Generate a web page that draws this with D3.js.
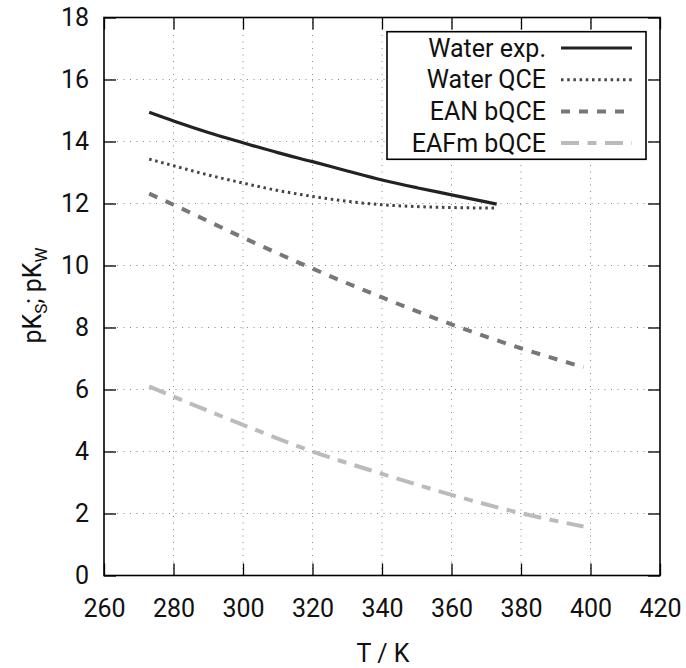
<!DOCTYPE html>
<html>
<head>
<meta charset="utf-8">
<script src="https://cdn.jsdelivr.net/npm/d3@7"></script>
<style>
  html, body { margin: 0; padding: 0; background: #fff; }
  svg { display: block; font-family: Roboto, "Noto Sans", sans-serif; }
</style>
</head>
<body>
<svg id="chart" width="686" height="668"></svg>
<script>
// Temperatures (K) and pK values for each series
const waterExpT   = [273, 280, 290, 300, 310, 320, 330, 340, 350, 360, 373];
const waterExpPK  = [14.94, 14.66, 14.29, 13.96, 13.64, 13.35, 13.05, 12.76, 12.51, 12.28, 11.98];

const waterQceT   = [273, 280, 290, 300, 310, 320, 330, 340, 350, 360, 373];
const waterQcePK  = [13.43, 13.22, 12.92, 12.66, 12.42, 12.23, 12.07, 11.96, 11.90, 11.87, 11.85];

const eanT        = [273, 280, 300, 320, 340, 360, 380, 398];
const eanPK       = [12.32, 11.96, 10.90, 9.90, 8.97, 8.10, 7.33, 6.72];

const eafmT       = [273, 280, 300, 320, 340, 360, 380, 398];
const eafmPK      = [6.10, 5.77, 4.86, 4.00, 3.28, 2.60, 2.01, 1.58];

const seriesNames = ["Water exp.", "Water QCE", "EAN bQCE", "EAFm bQCE"];
const xTicks = [260, 280, 300, 320, 340, 360, 380, 400, 420];
const yTicks = [0, 2, 4, 6, 8, 10, 12, 14, 16, 18];

const series = [
  { name: seriesNames[0], t: waterExpT, v: waterExpPK, color: "#222222", width: 3.2, dash: null },
  { name: seriesNames[1], t: waterQceT, v: waterQcePK, color: "#444444", width: 3, dash: "2.5,3.7" },
  { name: seriesNames[2], t: eanT,      v: eanPK,      color: "#777777", width: 4, dash: "9,9" },
  { name: seriesNames[3], t: eafmT,     v: eafmPK,     color: "#bbbbbb", width: 4, dash: "18,8.5,9,8.5" }
];

const FONT = 25;
const svg = d3.select("#chart");
const plotL = 104, plotR = 660, plotT = 17.5, plotB = 575.5;
const x = d3.scaleLinear().domain([260, 420]).range([plotL, plotR]);
const y = d3.scaleLinear().domain([0, 18]).range([plotB, plotT]);
const tickLen = 12;

// grid
const grid = svg.append("g").attr("stroke", "#888").attr("stroke-width", 1)
  .attr("stroke-dasharray", "1,5.5");
xTicks.slice(1, -1).forEach(t => {
  grid.append("line").attr("x1", x(t)).attr("x2", x(t)).attr("y1", plotB).attr("y2", plotT);
});
yTicks.slice(1, -1).forEach(t => {
  grid.append("line").attr("x1", plotL).attr("x2", plotR).attr("y1", y(t)).attr("y2", y(t));
});

// axes with inward ticks, mirrored on top and right
const axB = d3.axisBottom(x).tickValues(xTicks).tickSize(-tickLen).tickPadding(24);
const axT = d3.axisTop(x).tickValues(xTicks).tickSize(-tickLen).tickFormat("");
const axL = d3.axisLeft(y).tickValues(yTicks).tickSize(-tickLen).tickPadding(15);
const axR = d3.axisRight(y).tickValues(yTicks).tickSize(-tickLen).tickFormat("");

function styleAxis(g) {
  g.select(".domain").remove();
  g.selectAll(".tick line").attr("stroke", "#000").attr("stroke-width", 1.3);
  g.selectAll(".tick text").attr("fill", "#111").style("font-size", FONT + "px")
    .style("font-family", "Roboto, sans-serif");
}
svg.append("g").attr("transform", `translate(0,${plotB})`).call(axB).call(styleAxis);
svg.append("g").attr("transform", `translate(0,${plotT})`).call(axT).call(styleAxis);
svg.append("g").attr("transform", `translate(${plotL},0)`).call(axL).call(styleAxis);
svg.append("g").attr("transform", `translate(${plotR},0)`).call(axR).call(styleAxis);

// frame
svg.append("rect").attr("x", plotL).attr("y", plotT).attr("width", plotR - plotL).attr("height", plotB - plotT)
  .attr("fill", "none").attr("stroke", "#000").attr("stroke-width", 1.6);

// curves
const line = d3.line().curve(d3.curveMonotoneX);
series.forEach(s => {
  const pts = s.t.map((t, i) => [x(t), y(s.v[i])]);
  svg.append("path").attr("d", line(pts)).attr("fill", "none")
    .attr("stroke", s.color).attr("stroke-width", s.width)
    .attr("stroke-dasharray", s.dash);
});

// legend
const lg = svg.append("g");
lg.append("rect").attr("x", 387).attr("y", 31.7).attr("width", 259).attr("height", 127.6)
  .attr("fill", "#fff").attr("stroke", "#000").attr("stroke-width", 1.6);
series.forEach((s, i) => {
  const cy = 48 + i * 31.7;
  lg.append("text").attr("x", 546).attr("y", cy).attr("dy", "0.35em")
    .attr("text-anchor", "end").style("font-size", FONT + "px").attr("fill", "#111").text(s.name);
  lg.append("line").attr("x1", 561).attr("x2", 632).attr("y1", cy).attr("y2", cy)
    .attr("stroke", s.color).attr("stroke-width", s.width).attr("stroke-dasharray", s.dash);
});

// axis titles
svg.append("text").attr("x", (plotL + plotR) / 2 + 1).attr("y", 662)
  .attr("text-anchor", "middle").style("font-size", FONT + "px").attr("fill", "#111").text("T / K");

const yl = svg.append("text").attr("transform", `translate(41,${(plotT + plotB) / 2 - 1}) rotate(-90)`)
  .attr("text-anchor", "middle").style("font-size", FONT + "px").attr("fill", "#111");
yl.append("tspan").text("pK");
yl.append("tspan").attr("dy", 6).style("font-size", "17px").text("S");
yl.append("tspan").attr("dy", -6).text("; pK");
yl.append("tspan").attr("dy", 6).style("font-size", "17px").text("W");
</script>
</body>
</html>
